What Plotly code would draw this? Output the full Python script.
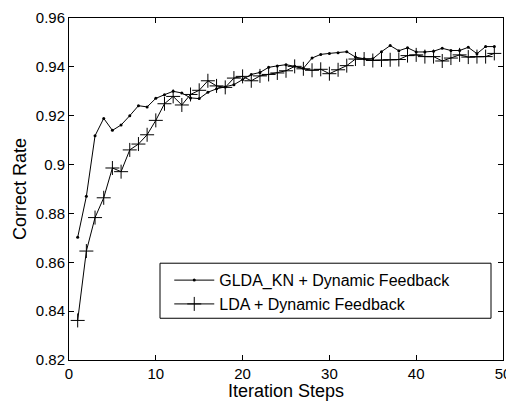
import plotly.graph_objects as go

steps = list(range(1, 50))
glda_kn = [0.8702, 0.887, 0.9118, 0.9189, 0.914, 0.9162, 0.920, 0.9241, 0.9236, 0.9271,
           0.9286, 0.9300, 0.9293, 0.9273, 0.9270, 0.9296, 0.9310, 0.9318, 0.9327, 0.9348,
           0.9369, 0.9377, 0.9398, 0.9404, 0.9409, 0.9402, 0.9394, 0.9436, 0.9451, 0.9455,
           0.9458, 0.9462, 0.9440, 0.9433, 0.9433, 0.9462, 0.9487, 0.9466, 0.9478, 0.9461,
           0.9461, 0.9464, 0.9476, 0.9467, 0.9467, 0.9480, 0.9454, 0.9483, 0.9483]
lda = [0.8362, 0.8646, 0.8783, 0.8864, 0.8986, 0.8971, 0.9060, 0.9084, 0.9122, 0.9181,
       0.9249, 0.9279, 0.9244, 0.9287, 0.9304, 0.9343, 0.9322, 0.9316, 0.9354, 0.9361,
       0.9343, 0.9363, 0.9369, 0.9375, 0.9384, 0.9402, 0.9392, 0.9386, 0.9390, 0.9372,
       0.9388, 0.9405, 0.9432, 0.9432, 0.9426, 0.9428, 0.9429, 0.9430, 0.9446, 0.9449,
       0.9442, 0.9442, 0.9424, 0.9436, 0.9449, 0.9440, 0.9442, 0.9442, 0.9455]

x_ticks = [0, 10, 20, 30, 40, 50]
y_ticks = [0.82, 0.84, 0.86, 0.88, 0.90, 0.92, 0.94, 0.96]
y_tick_labels = ["0.82", "0.84", "0.86", "0.88", "0.9", "0.92", "0.94", "0.96"]

fig = go.Figure()
fig.add_trace(go.Scatter(
    x=steps, y=glda_kn, mode="lines+markers", name="GLDA_KN + Dynamic Feedback",
    line=dict(color="black", width=1),
    marker=dict(symbol="circle", size=3, color="black"),
))
fig.add_trace(go.Scatter(
    x=steps, y=lda, mode="lines+markers", name="LDA + Dynamic Feedback",
    line=dict(color="black", width=1),
    marker=dict(symbol="cross-thin", size=10, color="black", line=dict(color="black", width=1)),
))

fam = "Liberation Sans, Arial, sans-serif"
tick_font = dict(family=fam, size=15, color="black")
title_font = dict(family=fam, size=18, color="black")
legend_font = dict(family=fam, size=16, color="black")
axis_common = dict(
    showline=True, linecolor="black", linewidth=1, mirror="ticks",
    ticks="inside", ticklen=5, tickcolor="black", showgrid=False, zeroline=False,
    tickfont=tick_font, automargin=False,
)
# page body has an 8px margin, so the figure is drawn 8px right/down
fig.update_layout(
    width=506, height=393,
    margin=dict(l=61, r=11, t=10, b=41),
    paper_bgcolor="white", plot_bgcolor="white",
    font=tick_font,
    showlegend=True,
    legend=dict(x=0.231, y=0.283, xanchor="left", yanchor="top",
                bgcolor="rgba(0,0,0,0)", borderwidth=0, font=legend_font,
                tracegroupgap=0, itemwidth=40),
    xaxis=dict(range=[0, 50], tickvals=x_ticks,
               title=dict(text="Iteration Steps", font=title_font, standoff=0), **axis_common),
    yaxis=dict(range=[0.82, 0.96], tickvals=y_ticks, ticktext=y_tick_labels,
               title=dict(text="Correct Rate", font=title_font, standoff=4), **axis_common),
    shapes=[dict(type="rect", xref="paper", yref="paper",
                 x0=(160 - 69) / 434, x1=(491 - 69) / 434,
                 y0=(360 - 318.3) / 341.7, y1=(360 - 263.3) / 341.7,
                 line=dict(color="black", width=1), fillcolor="rgba(0,0,0,0)")],
)
fig.write_html("out.html")
